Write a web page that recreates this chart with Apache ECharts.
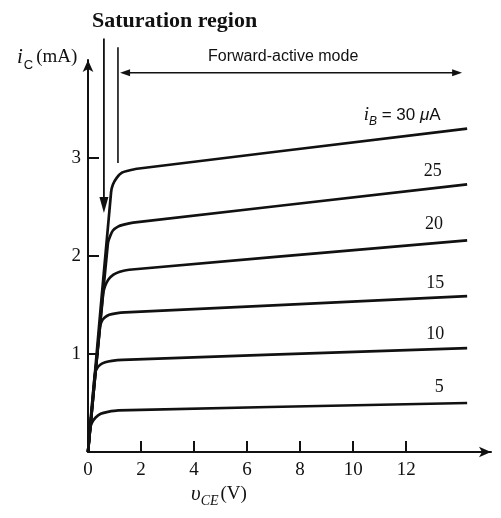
<!DOCTYPE html>
<html><head><meta charset="utf-8">
<script src="https://cdn.jsdelivr.net/npm/echarts@6/dist/echarts.min.js"></script>
<style>html,body{margin:0;padding:0;background:#fff}#c{width:501px;height:518px}</style>
</head><body><div id="c"></div>
<script>
// ---- data (vCE in V, iC in mA) ----
const xTicks = [0, 2, 4, 6, 8, 10, 12];
const yTicks = [1, 2, 3];
const curveLabels = ['5', '10', '15', '20', '25', '30'];
const ib5  = [[0,0],[0.08,0.24],[0.15,0.30],[0.28,0.35],[0.48,0.39],[0.75,0.41],[1.15,0.425],[14.3,0.50]];
const ib10 = [[0,0],[0.26,0.80],[0.33,0.85],[0.46,0.89],[0.65,0.915],[0.9,0.93],[1.3,0.94],[14.3,1.06]];
const ib15 = [[0,0],[0.45,1.27],[0.51,1.33],[0.62,1.37],[0.8,1.40],[1.05,1.415],[1.4,1.425],[14.3,1.59]];
const ib20 = [[0,0],[0.57,1.61],[0.64,1.69],[0.77,1.76],[0.96,1.81],[1.2,1.84],[1.55,1.86],[14.3,2.16]];
const ib25 = [[0,0],[0.75,2.13],[0.83,2.20],[0.94,2.26],[1.13,2.30],[1.35,2.32],[1.7,2.34],[14.3,2.73]];
const ib30 = [[0,0],[0.87,2.65],[0.94,2.73],[1.09,2.80],[1.28,2.85],[1.51,2.87],[1.85,2.89],[14.3,3.30]];
// label anchor points (data coords)
const labelPos = [[13.25,0.66],[13.1,1.20],[13.1,1.72],[13.05,2.32],[13.0,2.86],[11.85,3.44]];
// region markers (data coords)
const satArrow = [[0.6,4.22],[0.6,2.44]];
const fwdBoundary = [[1.13,4.13],[1.13,2.95]];
const fwdArrow = [[1.21,3.87],[14.11,3.87]];

const curves = [ib5, ib10, ib15, ib20, ib25, ib30];
const INK = '#111';
const SERIF = '"Liberation Serif", "DejaVu Serif", serif';
const SANS = '"Liberation Sans", Arial, sans-serif';

const chart = echarts.init(document.getElementById('c'), null, {renderer: 'canvas'});
const option = {
  animation: false,
  backgroundColor: '#fff',
  grid: {left: 88, right: 10, top: 60, bottom: 66},
  xAxis: {
    type: 'value', min: 0, max: 15.2, interval: 2,
    axisLine: {show: true, symbol: ['none', 'arrow'], symbolSize: [8, 12], lineStyle: {color: INK, width: 2}},
    axisTick: {show: true, inside: true, length: 11, customValues: xTicks.slice(1), lineStyle: {color: INK, width: 2}},
    axisLabel: {customValues: xTicks, color: INK, fontFamily: SERIF, fontSize: 19, margin: 9},
    splitLine: {show: false}
  },
  yAxis: {
    type: 'value', min: 0, max: 4, interval: 1,
    axisLine: {show: true, symbol: ['none', 'arrow'], symbolSize: [8, 12], lineStyle: {color: INK, width: 2}},
    axisTick: {show: true, inside: true, length: 11, customValues: yTicks, lineStyle: {color: INK, width: 2}},
    axisLabel: {customValues: yTicks, color: INK, fontFamily: SERIF, fontSize: 19, margin: 7},
    splitLine: {show: false}
  },
  series: curves.map((d, i) => ({
    name: curveLabels[i], type: 'line', data: d, showSymbol: false, smooth: 0.3,
    lineStyle: {color: INK, width: 2.7}, z: 3
  }))
};
chart.setOption(option);

const P = (p) => chart.convertToPixel({gridIndex: 0}, p);
const g = [];
function line(a, b, w) {
  g.push({type: 'line', shape: {x1: a[0], y1: a[1], x2: b[0], y2: b[1]}, style: {stroke: INK, lineWidth: w}, z: 10});
}
function head(tip, dir, len, hw) {
  const bx = tip[0] - dir[0]*len, by = tip[1] - dir[1]*len;
  const nx = -dir[1], ny = dir[0];
  g.push({type: 'polygon', shape: {points: [tip, [bx + nx*hw, by + ny*hw], [bx - nx*hw, by - ny*hw]]}, style: {fill: INK}, z: 10});
}
const s0 = P(satArrow[0]), s1 = P(satArrow[1]);
line(s0, [s1[0], s1[1] - 10], 1.8);
head(s1, [0, 1], 16, 4.5);
line(P(fwdBoundary[0]), P(fwdBoundary[1]), 1.6);
const f0 = P(fwdArrow[0]), f1 = P(fwdArrow[1]);
line([f0[0] + 6, f0[1]], [f1[0] - 6, f1[1]], 1.4);
head(f0, [-1, 0], 10, 3.5);
head(f1, [1, 0], 10, 3.5);

labelPos.forEach((p, i) => {
  const q = P(p);
  if (i === 5) {
    g.push({type: 'text', x: q[0], y: q[1], z: 10, style: {
      text: '{i|i}{s|B}{t| = 30 }{m|μ}{t|A}', align: 'center', verticalAlign: 'middle',
      rich: {
        i: {fontFamily: SERIF, fontStyle: 'italic', fontSize: 19, lineHeight: 26, fill: INK},
        s: {fontFamily: SANS, fontStyle: 'italic', fontSize: 12, lineHeight: 12, verticalAlign: 'bottom', fill: INK},
        t: {fontFamily: SANS, fontSize: 17, lineHeight: 26, fill: INK},
        m: {fontFamily: SANS, fontStyle: 'italic', fontSize: 17, lineHeight: 26, fill: INK}
      }}});
  } else {
    g.push({type: 'text', x: q[0], y: q[1], z: 10, style: {
      text: curveLabels[i], align: 'center', verticalAlign: 'middle',
      fontFamily: SERIF, fontSize: 18, fill: INK}});
  }
});

g.push({type: 'text', left: 92, top: 10, z: 10, style: {
  text: 'Saturation region', fontFamily: SERIF, fontWeight: 'bold', fontSize: 22, fill: INK}});
g.push({type: 'text', left: 208, top: 49, z: 10, style: {
  text: 'Forward-active mode', fontFamily: SANS, fontSize: 16, fill: INK}});
g.push({type: 'text', left: 17, top: 47, z: 10, style: {
  text: '{i|i}{s|C}{t|(mA)}',
  rich: {
    i: {fontFamily: SERIF, fontStyle: 'italic', fontSize: 21, lineHeight: 28, fill: INK},
    s: {fontFamily: SANS, fontSize: 13, lineHeight: 13, verticalAlign: 'bottom', fill: INK, padding: [0, 3, 0, 1]},
    t: {fontFamily: SERIF, fontSize: 19, lineHeight: 28, fill: INK}
  }}});
g.push({type: 'text', left: 191, top: 484, z: 10, style: {
  text: '{i|υ}{s|CE}{t|(V)}',
  rich: {
    i: {fontFamily: SERIF, fontStyle: 'italic', fontSize: 21, lineHeight: 28, fill: INK},
    s: {fontFamily: SERIF, fontStyle: 'italic', fontSize: 14, lineHeight: 14, verticalAlign: 'bottom', fill: INK, padding: [0, 2, 0, 0]},
    t: {fontFamily: SERIF, fontSize: 19, lineHeight: 28, fill: INK}
  }}});
chart.setOption({graphic: {elements: g}});
</script></body></html>
